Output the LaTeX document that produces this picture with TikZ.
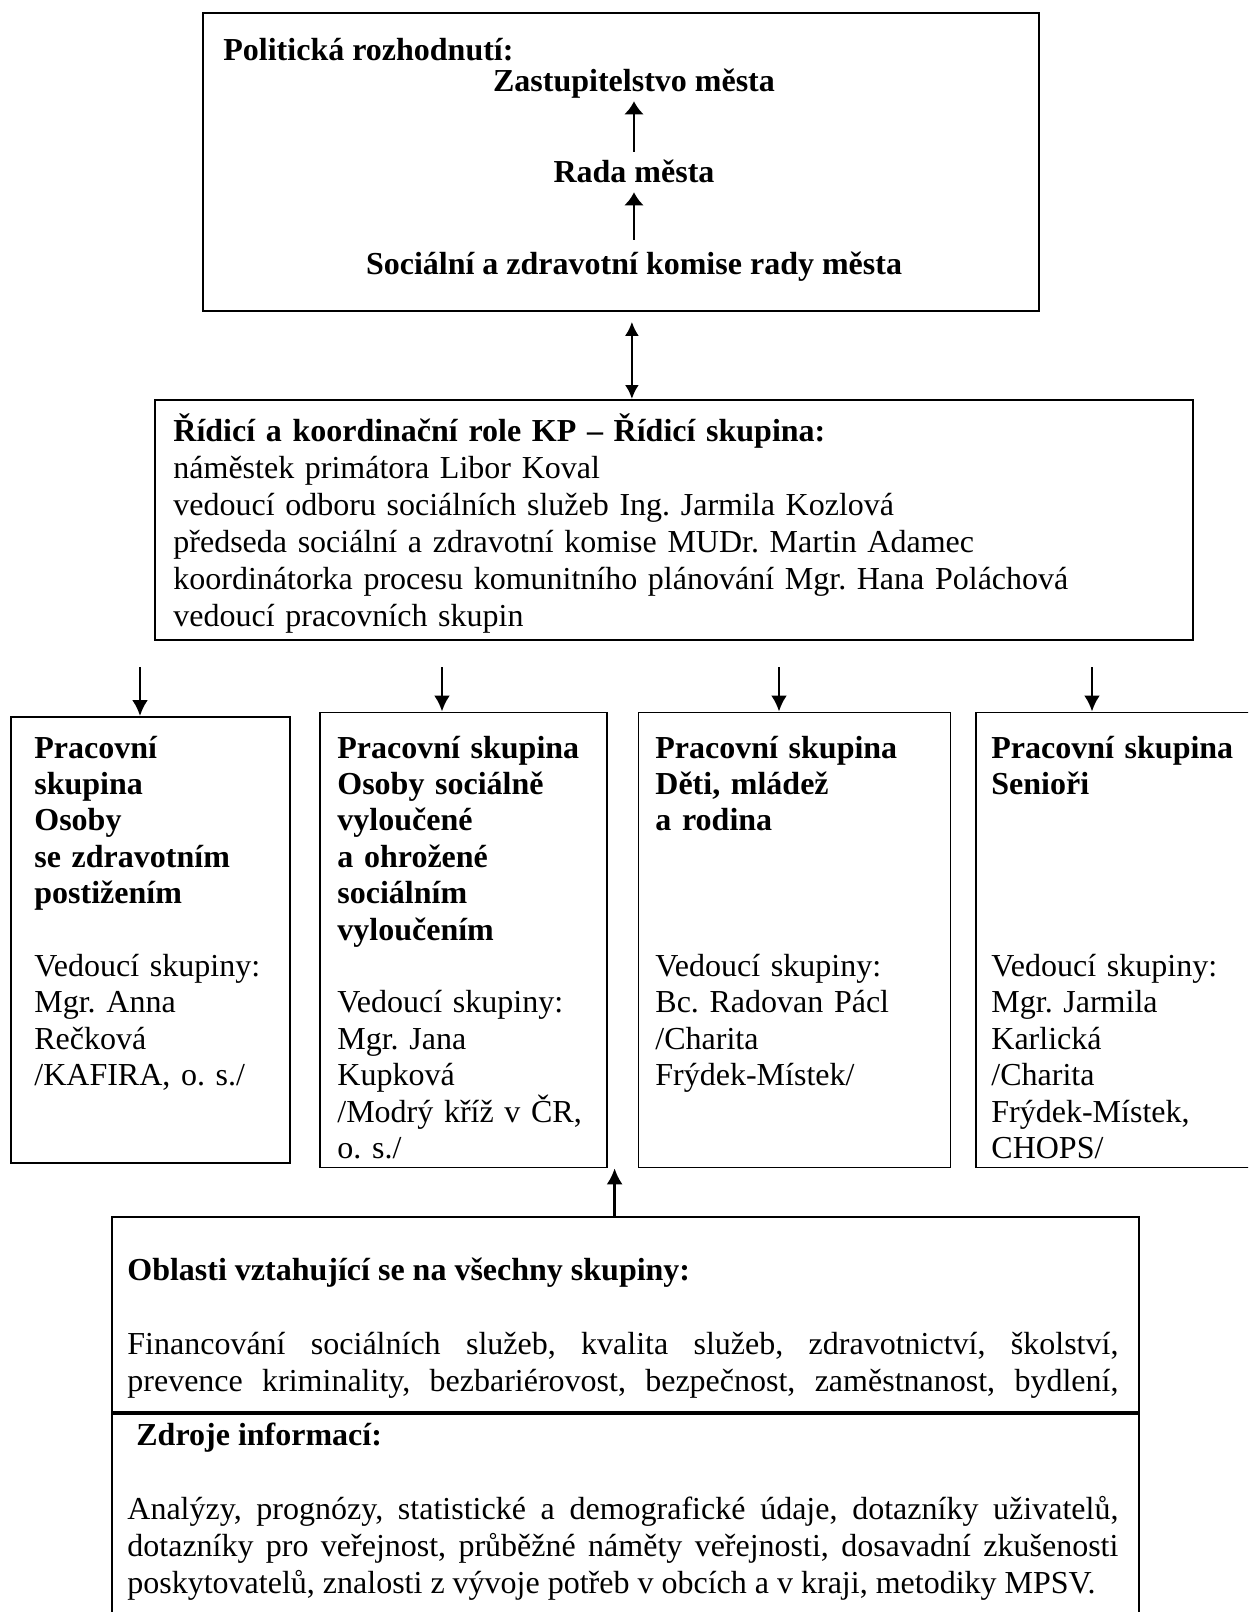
\documentclass[tikz,border=0pt]{standalone}
\usepackage{fontspec}
\setmainfont{Liberation Serif}
\usepackage{tikz}
\usetikzlibrary{
    arrows.meta,
    positioning,
    calc
}
\frenchspacing

\begin{document}
\begin{tikzpicture}[
            x=0.5pt, y=-0.5pt,
            font=\fontsize{16pt}{18pt}\selectfont,
            box/.style={draw, line width=0.9pt, inner sep=0pt, anchor=north west},
            head/.style={inner sep=0pt, font=\fontsize{16pt}{18pt}\selectfont\bfseries},
            grptxt/.style={inner sep=0pt, anchor=base west, align=left, text width=#1,
                font=\fontsize{16pt}{18.2pt}\selectfont},
            parblock/.style={inner sep=0pt, anchor=base west, align=justify, text width=495.5pt,
                font=\fontsize{16pt}{18.5pt}\selectfont},
            arr/.style={-{Latex[length=8pt, width=8pt]}, line width=1.3pt},
            toparr/.style={-{Latex[length=6.5pt, width=10pt]}, line width=1.4pt},
            dblarr/.style={{Latex[length=7pt, width=7pt]}-{Latex[length=7pt, width=7pt]}, line width=1.3pt},
        ]
            \useasboundingbox (0,0) rectangle (1248,1612);
            \clip (0,0) rectangle (1248,1612);

            % ====== Political decisions ======
            \node[box, minimum width=418pt, minimum height=149pt] (politika) at (202,12) {};
            \node[head, anchor=mid west] (polnadpis) at (223,56) {Politická rozhodnutí:};
            \node[head, anchor=mid] (zastup) at (634,87) {Zastupitelstvo města};
            \node[head, anchor=mid] (rada) at (634,178) {Rada města};
            \node[head, anchor=mid] (komise) at (634,270) {Sociální a zdravotní komise rady města};

            \draw[toparr] ([yshift=4pt]rada.north) -- ([yshift=-1.25pt]zastup.south);
            \draw[toparr] ([yshift=6pt]komise.north) -- ([yshift=-4.5pt]rada.south);

            % ====== Steering group ======
            \node[box, minimum width=519pt, minimum height=120pt] (ridici) at (154,399) {};
            \node[grptxt=500pt, font=\fontsize{16pt}{18.5pt}\selectfont] (clenove) at (173,441)
                {\textbf{Řídicí a koordinační role KP – Řídicí skupina:}\\
                 náměstek primátora Libor Koval\\
                 vedoucí odboru sociálních služeb Ing. Jarmila Kozlová\\
                 předseda sociální a zdravotní komise MUDr. Martin Adamec\\
                 koordinátorka procesu komunitního plánování Mgr. Hana Poláchová\\
                 vedoucí pracovních skupin};

            \draw[dblarr, shorten <=5pt] ([xshift=5.5pt]politika.south) -- ([xshift=5.5pt]politika.south |- ridici.north);

            % ====== Working groups ======
            \node[box, minimum width=139.5pt, minimum height=223pt] (ps1) at (10,716) {};
            \node[box, right=14pt of ps1, minimum width=143.5pt, minimum height=227.5pt] (ps2) {};
            \node[box, right=15pt of ps2, minimum width=156pt, minimum height=227.5pt] (ps3) {};
            \node[box, right=12pt of ps3, minimum width=150pt, minimum height=227.5pt] (ps4) {};

            \node[grptxt=125pt] (ps1txt) at (34,758)
                {\textbf{Pracovní\\ skupina\\ Osoby\\ se zdravotním\\ postižením}\\[18.2pt]
                 Vedoucí skupiny:\\ Mgr. Anna\\ Rečková\\ /KAFIRA, o. s./};
            \node[grptxt=132pt] (ps2txt) at (337,758)
                {\textbf{Pracovní skupina\\ Osoby sociálně\\ vyloučené\\ a ohrožené\\ sociálním\\ vyloučením}\\[18.2pt]
                 Vedoucí skupiny:\\ Mgr. Jana\\ Kupková\\ /Modrý kříž v ČR,\\ o. s./};
            \node[grptxt=144pt] (ps3txt) at (655,758)
                {\textbf{Pracovní skupina\\ Děti, mládež\\ a rodina}\\[54.6pt]
                 Vedoucí skupiny:\\ Bc. Radovan Pácl\\ /Charita\\ Frýdek-Místek/};
            \node[grptxt=128pt] (ps4txt) at (991,758)
                {\textbf{Pracovní skupina\\ Senioři}\\[72.8pt]
                 Vedoucí skupiny:\\ Mgr. Jarmila\\ Karlická\\ /Charita\\ Frýdek-Místek,\\ CHOPS/};

            \foreach \x/\grp in {140/ps1, 442/ps2, 779/ps3, 1092/ps4}
                \draw[arr] (\x,667) -- (\x,667 |- \grp.north);

            % ====== Common areas and sources ======
            \node[box, minimum width=513.5pt, minimum height=97.5pt] (oblasti) at (111,1216) {};
            \node[box, below=0pt of oblasti, minimum width=513.5pt, minimum height=120pt] (zdroje) {};

            \node[parblock] (oblastitxt) at (127,1280)
                {\textbf{Oblasti vztahující se na všechny skupiny:}\\[18.5pt]
                 {\parfillskip=0pt Financování sociálních služeb, kvalita služeb, zdravotnictví, školství,\linebreak
                 prevence kriminality, bezbariérovost, bezpečnost, zaměstnanost, bydlení,\par}};
            \node[parblock] (zdrojetxt) at (127,1445)
                {\hspace*{4.5pt}\textbf{Zdroje informací:}\\[18.5pt]
                 Analýzy, prognózy, statistické a demografické údaje, dotazníky uživatelů,\linebreak
                 dotazníky pro veřejnost, průběžné náměty veřejnosti, dosavadní zkušenosti\linebreak
                 poskytovatelů, znalosti z vývoje potřeb v obcích a v kraji, metodiky MPSV.};

            \draw[arr] ([xshift=3.5pt]ps2.south east |- oblasti.north) -- ([xshift=3.5pt]ps2.south east);
        \end{tikzpicture}
\end{document}
